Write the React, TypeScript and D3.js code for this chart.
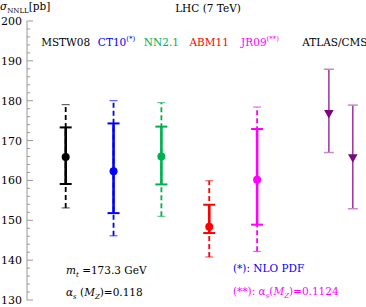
import { useEffect, useRef } from 'react';
import * as d3 from 'd3';

// PDF sets (NNLL cross sections, pb)
const pdfNames = ['MSTW08', 'CT10', 'NN2.1', 'ABM11', 'JR09'];
const pdfSup = ['', '(*)', '', '', '(**)'];
const pdfColors = ['#000000', '#0000ff', '#00b050', '#ff0000', '#ff00ff'];
const pdfPos = [1, 2, 3, 4, 5];
const pdfCentral = [165.9, 162.3, 166.0, 148.4, 160.2];
const pdfScaleLow = [159.1, 151.8, 159.0, 146.8, 148.9];
const pdfScaleHigh = [173.3, 174.3, 173.5, 153.9, 172.9];
const pdfTotLow = [153.1, 146.1, 151.0, 140.8, 142.2];
const pdfTotHigh = [179.0, 180.0, 179.5, 159.9, 178.4];

// measurements
const expNames = ['ATLAS', 'CMS'];
const expPos = [6.5, 7];
const expCentral = [177.2, 166.1];
const expLow = [167.0, 152.9];
const expHigh = [187.9, 178.9];

const yTicks = [130, 140, 150, 160, 170, 180, 190, 200];

export default function App() {
  const svgRef = useRef<SVGSVGElement>(null);

  useEffect(() => {
    if (!svgRef.current) return;
    const svg = d3.select(svgRef.current);
    svg.selectAll('*').remove();

    const font = 'DejaVu Serif';
    const x = d3.scaleLinear().domain([0.2, 7]).range([27.4, 352.8]);
    const y = d3.scaleLinear().domain([130, 200]).range([300, 21]);
    const axisX = 27;

    const root = svg.append('g').style('font-family', font);

    // Y axis
    const ax = root.append('g');
    ax.append('line')
      .attr('x1', axisX).attr('x2', axisX)
      .attr('y1', y(130)).attr('y2', y(200))
      .attr('stroke', '#999').attr('stroke-width', 1);
    d3.range(130, 201, 2).forEach(v => {
      const major = v % 10 === 0;
      ax.append('line')
        .attr('x1', axisX).attr('x2', axisX + (major ? 6 : 3))
        .attr('y1', y(v)).attr('y2', y(v))
        .attr('stroke', '#999').attr('stroke-width', 1);
    });
    yTicks.forEach(v => {
      ax.append('text')
        .attr('x', 22).attr('y', y(v) + 4)
        .attr('text-anchor', 'end')
        .style('font-size', '11px')
        .text(v);
    });

    // axis title
    const yt = root.append('text').attr('x', 0).attr('y', 10)
      .style('font-size', '10.5px');
    yt.append('tspan').style('font-style', 'italic').text('σ');
    yt.append('tspan').attr('dy', 2.5).style('font-size', '7px').text('NNLL');
    yt.append('tspan').attr('dy', -2.5).text('[pb]');

    root.append('text')
      .attr('x', 208).attr('y', 12)
      .attr('text-anchor', 'middle')
      .style('font-size', '10.5px')
      .text('LHC (7 TeV)');

    // PDF labels
    pdfNames.forEach((name, i) => {
      const t = root.append('text')
        .attr('x', x(pdfPos[i]) + (pdfSup[i] ? 3 : 0)).attr('y', 46)
        .attr('text-anchor', 'middle')
        .style('font-size', '10.5px')
        .attr('fill', pdfColors[i]);
      t.append('tspan').text(name);
      if (pdfSup[i]) t.append('tspan').attr('dy', -5).style('font-size', '7px').text(pdfSup[i]);
    });
    root.append('text')
      .attr('x', (x(expPos[0]) + x(expPos[1])) / 2 - 6).attr('y', 46)
      .attr('text-anchor', 'middle')
      .style('font-size', '10.5px')
      .text('ATLAS/CMS');

    // PDF error bars
    pdfNames.forEach((_, i) => {
      const g = root.append('g');
      const cx = x(pdfPos[i]);
      const c = pdfColors[i];
      // total (dashed)
      g.append('line')
        .attr('x1', cx).attr('x2', cx)
        .attr('y1', y(pdfTotLow[i])).attr('y2', y(pdfTotHigh[i]))
        .attr('stroke', c).attr('stroke-width', 1.8)
        .attr('stroke-dasharray', '5,3');
      [pdfTotLow[i], pdfTotHigh[i]].forEach(v => {
        g.append('line')
          .attr('x1', cx - 4).attr('x2', cx + 4)
          .attr('y1', y(v)).attr('y2', y(v))
          .attr('stroke', c).attr('stroke-width', 1).attr('opacity', 0.75);
      });
      // scale (solid)
      g.append('line')
        .attr('x1', cx).attr('x2', cx)
        .attr('y1', y(pdfScaleLow[i])).attr('y2', y(pdfScaleHigh[i]))
        .attr('stroke', c).attr('stroke-width', 2.6);
      [pdfScaleLow[i], pdfScaleHigh[i]].forEach(v => {
        g.append('line')
          .attr('x1', cx - 6).attr('x2', cx + 6)
          .attr('y1', y(v)).attr('y2', y(v))
          .attr('stroke', c).attr('stroke-width', 2);
      });
      g.append('circle')
        .attr('cx', cx).attr('cy', y(pdfCentral[i]))
        .attr('r', 4).attr('fill', c);
    });

    // measurements
    const tri = d3.symbol().type(d3.symbolTriangle).size(40);
    expNames.forEach((_, i) => {
      const g = root.append('g');
      const cx = x(expPos[i]);
      g.append('line')
        .attr('x1', cx).attr('x2', cx)
        .attr('y1', y(expLow[i])).attr('y2', y(expHigh[i]))
        .attr('stroke', '#93279a').attr('stroke-width', 1.4);
      [expLow[i], expHigh[i]].forEach(v => {
        g.append('line')
          .attr('x1', cx - 5).attr('x2', cx + 5)
          .attr('y1', y(v)).attr('y2', y(v))
          .attr('stroke', '#c88ac8').attr('stroke-width', 1.5);
      });
      g.append('path')
        .attr('d', tri)
        .attr('transform', `translate(${cx},${y(expCentral[i]) + 1}) rotate(180)`)
        .attr('fill', '#7a0a7a');
    });

    // annotations
    const a1 = root.append('text').attr('x', 66).attr('y', 274).style('font-size', '10.5px');
    a1.append('tspan').style('font-style', 'italic').text('m');
    a1.append('tspan').attr('dy', 3).style('font-size', '7px').style('font-style', 'italic').text('t');
    a1.append('tspan').attr('dy', -3).text(' =173.3 GeV');

    const a2 = root.append('text').attr('x', 66).attr('y', 296).style('font-size', '10.5px');
    a2.append('tspan').style('font-style', 'italic').text('α');
    a2.append('tspan').attr('dy', 3).style('font-size', '7px').style('font-style', 'italic').text('s');
    a2.append('tspan').attr('dy', -3).text(' (');
    a2.append('tspan').style('font-style', 'italic').text('M');
    a2.append('tspan').attr('dy', 3).style('font-size', '7px').style('font-style', 'italic').text('Z');
    a2.append('tspan').attr('dy', -3).text(')=0.118');

    root.append('text').attr('x', 233).attr('y', 272)
      .style('font-size', '10.5px')
      .attr('fill', '#0000ff')
      .text('(*): NLO PDF');

    const a4 = root.append('text').attr('x', 233).attr('y', 295)
      .style('font-size', '10.5px')
      .attr('fill', '#ff00ff');
    a4.append('tspan').text('(**): ');
    a4.append('tspan').style('font-style', 'italic').text('α');
    a4.append('tspan').attr('dy', 3).style('font-size', '7px').style('font-style', 'italic').text('s');
    a4.append('tspan').attr('dy', -3).text('(');
    a4.append('tspan').style('font-style', 'italic').text('M');
    a4.append('tspan').attr('dy', 3).style('font-size', '7px').style('font-style', 'italic').text('Z');
    a4.append('tspan').attr('dy', -3).text(')=0.1124');
  }, []);

  return (
    <div style={{ position: 'fixed', left: 0, top: 0 }}>
      <svg ref={svgRef} width="366" height="307" style={{ display: 'block', background: '#fff' }}></svg>
    </div>
  );
}
